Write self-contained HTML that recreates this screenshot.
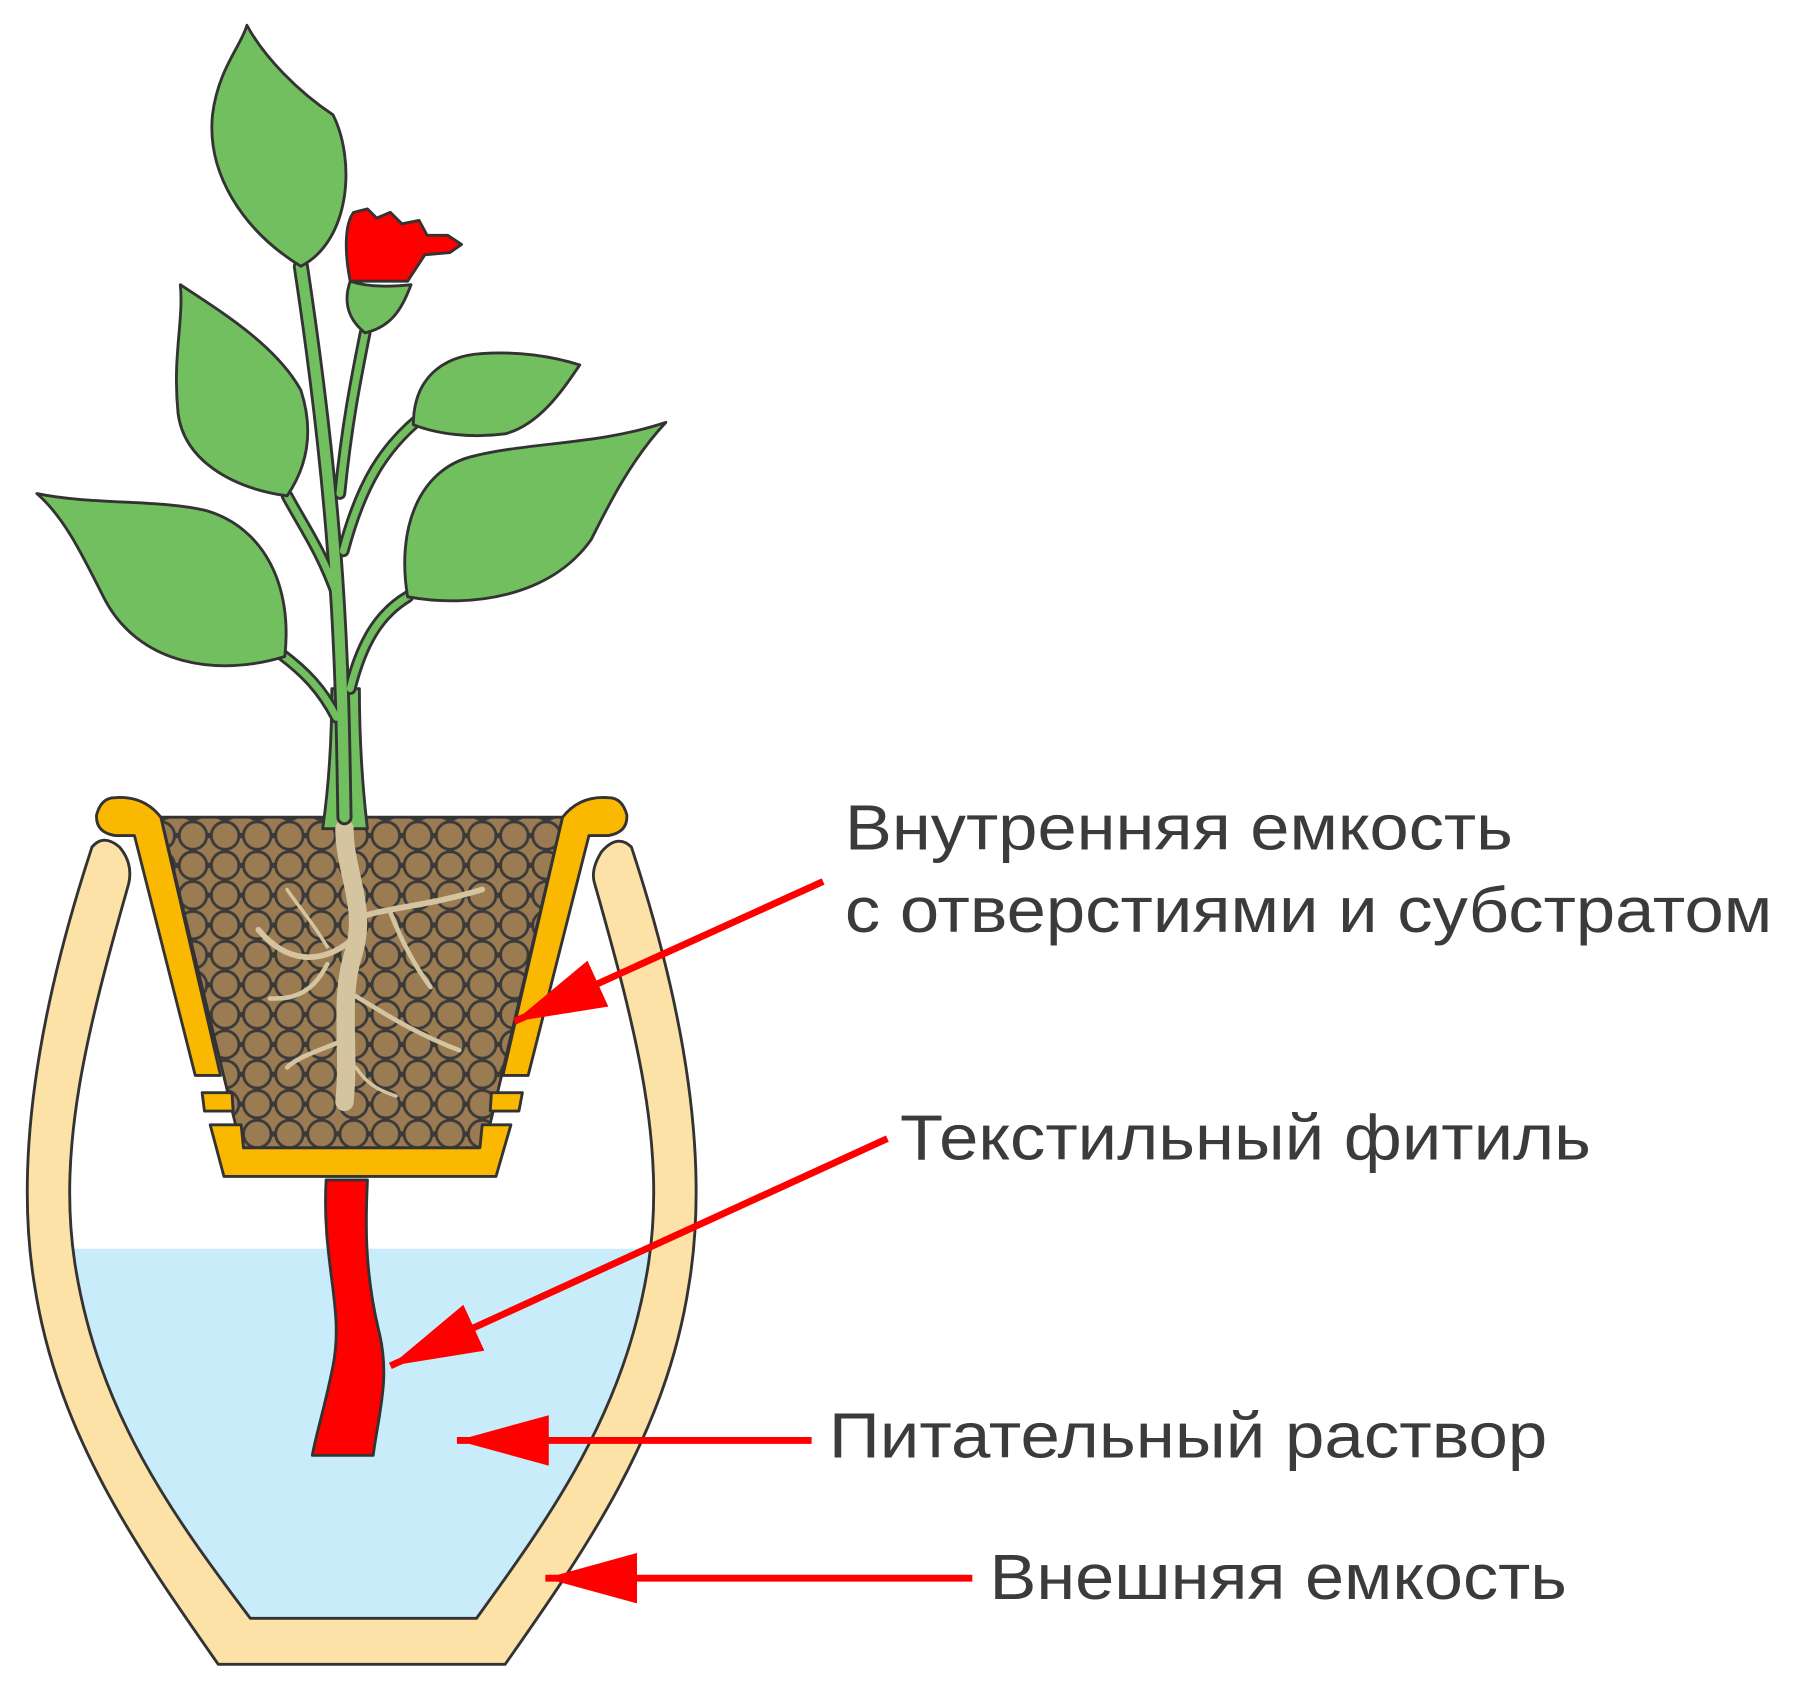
<!DOCTYPE html>
<html><head><meta charset="utf-8"><style>html,body{margin:0;padding:0;background:#fff}svg{display:block}</style></head>
<body>
<svg width="1800" height="1701" viewBox="0 0 1568 1482" xmlns="http://www.w3.org/2000/svg">
<defs>
<pattern id="balls" width="28" height="26" patternUnits="userSpaceOnUse">
<rect width="28" height="26" fill="#9a7b52"/>
<circle cx="14" cy="13" r="12" fill="#9a7b52" stroke="#3a3a3a" stroke-width="2.5"/>
<circle cx="0" cy="0" r="12" fill="#9a7b52" stroke="#3a3a3a" stroke-width="2.5"/>
<circle cx="28" cy="0" r="12" fill="#9a7b52" stroke="#3a3a3a" stroke-width="2.5"/>
<circle cx="0" cy="26" r="12" fill="#9a7b52" stroke="#3a3a3a" stroke-width="2.5"/>
<circle cx="28" cy="26" r="12" fill="#9a7b52" stroke="#3a3a3a" stroke-width="2.5"/>
</pattern>
<marker id="ah" markerUnits="userSpaceOnUse" markerWidth="90" markerHeight="50" refX="80" refY="22" orient="auto">
<polygon points="0,0 80,22 0,44" fill="#ff0000"/>
</marker>
</defs>
<g stroke="#333" stroke-width="2.5" stroke-linejoin="round">
<path d="M64,1088 L566,1088 C545,1230 480,1320 415,1410 L218,1410 C150,1320 85,1230 64,1088 Z" fill="#c9ecfb" stroke="none"/>
<path d="M80,738 C40,860 10,1000 30,1120 C50,1250 120,1350 190,1450 L440,1450 C510,1350 580,1250 600,1120 C620,1000 590,860 550,738 Q538,726 524,742 Q514,758 518,770 C555,900 580,1000 565,1100 C545,1230 480,1320 415,1410 L218,1410 C150,1320 85,1230 65,1100 C50,1000 75,900 112,770 Q116,752 104,738 Q90,726 80,738 Z" fill="#fde2a7"/>
<path d="M140,712 L490,712 L422,1000 L210,1000 Z" fill="url(#balls)"/>
<path d="M281,722 C287,680 289,640 289,600 L313,600 C313,640 315,680 320,722 Z" fill="#72bf5f"/>
<g stroke="#d4c4a0" fill="none" stroke-linecap="round">
<path d="M300,722 C300,760 320,790 308,830 C295,870 305,910 300,960" stroke-width="16"/>
<path d="M310,800 C340,790 370,790 420,775" stroke-width="5"/>
<path d="M340,795 C350,820 360,840 375,860" stroke-width="4"/>
<path d="M305,820 C280,840 250,840 225,810" stroke-width="5"/>
<path d="M285,840 C270,870 250,870 235,870" stroke-width="4"/>
<path d="M305,865 C330,880 360,900 400,915" stroke-width="4"/>
<path d="M302,905 C280,915 260,920 250,930" stroke-width="4"/>
<path d="M310,930 C320,945 330,950 345,955" stroke-width="3"/>
<path d="M285,825 C270,800 260,790 250,775" stroke-width="3"/>
</g>
<path d="M100,695 Q125,693 140,712 L192,937 L170,937 L117,728 L100,728 Q83,725 84,710 Q88,695 100,695 Z" fill="#fbb800"/>
<path d="M530,695 Q505,693 490,712 L438,937 L460,937 L513,728 L530,728 Q547,725 546,710 Q542,695 530,695 Z" fill="#fbb800"/>
<path d="M176,952 L202,952 L203,968 L178,968 Z" fill="#fbb800"/>
<path d="M428,952 L455,952 L452,968 L427,968 Z" fill="#fbb800"/>
<path d="M183,980 L210,980 L212,1000 L418,1000 L420,980 L445,980 L432,1025 L195,1025 Z" fill="#fbb800"/>
<path d="M284,1028 C280,1100 300,1140 290,1190 C282,1230 275,1250 272,1268 L325,1268 C330,1230 340,1200 330,1160 C318,1110 318,1070 320,1028 Z" fill="#ff0000"/>
</g>
<g fill="none" stroke-linecap="round">
<g stroke="#333">
<path d="M300,712 C298,600 298,470 262,232" stroke-width="14"/>
<path d="M296,430 C302,370 310,330 318,290" stroke-width="11"/>
<path d="M293,625 C280,600 265,585 245,570" stroke-width="11"/>
<path d="M294,520 C280,480 265,460 250,432" stroke-width="11"/>
<path d="M299,480 C315,420 335,390 365,365" stroke-width="11"/>
<path d="M305,600 C315,560 330,535 355,520" stroke-width="11"/>
</g>
<g stroke="#72bf5f">
<path d="M300,712 C298,600 298,470 262,232" stroke-width="9"/>
<path d="M296,430 C302,370 310,330 318,290" stroke-width="6"/>
<path d="M293,625 C280,600 265,585 245,570" stroke-width="6"/>
<path d="M294,520 C280,480 265,460 250,432" stroke-width="6"/>
<path d="M299,480 C315,420 335,390 365,365" stroke-width="6"/>
<path d="M305,600 C315,560 330,535 355,520" stroke-width="6"/>
</g>
</g>
<g stroke="#333" stroke-width="2.5" fill="#72bf5f" stroke-linejoin="round">
<path d="M262,232 C210,200 180,150 185,100 C190,60 210,40 215,22 C230,50 260,80 290,100 C310,140 305,210 262,232 Z"/>
<path d="M248,572 C190,590 120,580 90,520 C70,480 55,450 32,430 C80,440 140,435 180,445 C230,460 255,510 248,572 Z"/>
<path d="M250,432 C200,425 160,400 155,360 C150,310 160,280 157,248 C190,270 240,300 262,340 C275,380 265,410 250,432 Z"/>
<path d="M360,370 C360,330 385,310 420,308 C450,306 480,310 505,318 C490,340 470,370 440,378 C410,382 380,378 360,370 Z"/>
<path d="M355,520 C345,460 365,410 410,398 C460,385 520,388 580,368 C550,400 530,440 515,470 C480,520 410,530 355,520 Z"/>
<path d="M305,245 C300,220 300,195 308,185 L320,182 L328,190 L340,185 L350,195 L365,192 L372,205 L390,205 L402,213 L392,220 L370,222 L355,245 Z" fill="#ff0000"/>
<path d="M305,245 C298,265 305,280 318,290 C340,285 350,270 358,248 C340,250 320,250 305,245 Z"/>
</g>
<g stroke="#ff0000" stroke-width="6" marker-end="url(#ah)">
<line x1="717" y1="768" x2="448" y2="890"/>
<line x1="773" y1="992" x2="340" y2="1190"/>
<line x1="707" y1="1255" x2="398" y2="1255"/>
<line x1="847" y1="1375" x2="475" y2="1375"/>
</g>
<g font-family="Liberation Sans, DejaVu Sans, sans-serif" font-size="56" fill="#3b3b3b">
<text x="736" y="740" textLength="582" lengthAdjust="spacingAndGlyphs">Внутренняя емкость</text>
<text x="736" y="812" textLength="808" lengthAdjust="spacingAndGlyphs">с отверстиями и субстратом</text>
<text x="784" y="1010" textLength="602" lengthAdjust="spacingAndGlyphs">Текстильный фитиль</text>
<text x="722" y="1270" textLength="626" lengthAdjust="spacingAndGlyphs">Питательный раствор</text>
<text x="862" y="1393" textLength="503" lengthAdjust="spacingAndGlyphs">Внешняя емкость</text>
</g>
</svg>
</body></html>
